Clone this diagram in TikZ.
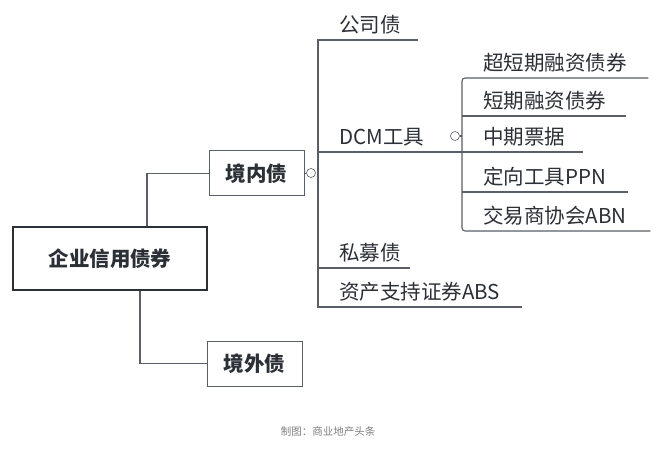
\documentclass[tikz,border=0pt]{standalone}
\usepackage{fontspec}
\setmainfont{Noto Sans CJK SC}
\usetikzlibrary{positioning}
\definecolor{ink}{HTML}{2B2F36}
\definecolor{wire}{HTML}{5A5E66}
\tikzset{
  box/.style={draw=wire, line width=1pt, text=ink, font=\fontsize{20.5}{24}\selectfont\bfseries, inner sep=0pt},
  leaf/.style={anchor=south west, inner xsep=0pt, inner ysep=6pt, align=left, text=ink,
    font=\fontsize{20.5}{24}\selectfont, execute at begin node={\hspace*{21pt}}},
  fold/.style={circle, draw=wire, fill=white, line width=0.6pt, minimum size=9pt, inner sep=0pt},
  link/.style={draw=wire, line width=1.1pt}
}
\begin{document}
\begin{tikzpicture}[x=1pt, y=-1pt]
  \useasboundingbox[fill=white] (0,0) rectangle (656,449);

  % boxes
  \node[box, line width=2pt, draw=ink, minimum width=194pt, minimum height=62pt] (root) at (110,258.5) {企业信用债券};
  \node[box, minimum width=95pt, minimum height=45pt] (nei) at (256.5,173.5) {境内债};
  \node[box, minimum width=95pt, minimum height=45pt] (wai) at (254.5,363.5) {境外债};
  \draw[link] ([xshift=37pt]root.north) |- (nei.west);
  \draw[link] ([xshift=30pt]root.south) |- (wai.west);

  % first level
  \node[leaf, text width=100pt] (gsz) at (318,40) {公司债};
  \node[leaf, text width=265pt] (dcm) at (318,152) {DCM工具};
  \node[leaf, text width=92pt] (smz) at (318,268) {私募债};
  \node[leaf, text width=204pt] (abs) at (318,307) {资产支持证券ABS};
  \node[fold] (f1) at (311,173) {};
  \draw[link] (nei.east) -- (f1);
  \draw[link] (gsz.south east) -- (gsz.south west) -- (abs.south west) -- (abs.south east);
  \draw[link] (dcm.south west) -- (dcm.south east);
  \draw[link] (smz.south west) -- (smz.south east);

  % DCM tools
  \node[leaf, text width=186pt] (cdr) at (462,78) {超短期融资债券};
  \node[leaf, text width=164pt] (dr) at (462,116) {短期融资债券};
  \node[leaf, text width=121pt] (mtn) at (462,152) {中期票据};
  \node[leaf, text width=166pt] (ppn) at (462,192) {定向工具PPN};
  \node[leaf, text width=188pt] (abn) at (462,231) {交易商协会ABN};
  \node[fold] (f2) at (455,136) {};
  \draw[link] (f2) -- (f2 -| cdr.south west);
  \draw[link, rounded corners=3pt] (cdr.south east) -- (cdr.south west) -- (abn.south west) -- (abn.south east);
  \foreach \n in {dr, ppn}
    \draw[link] (\n.south west) -- (\n.south east);

  % caption
  \node[text=gray, font=\fontsize{10.5}{12}\selectfont] (cap) at (328,432) {制图：商业地产头条};
\end{tikzpicture}
\end{document}
